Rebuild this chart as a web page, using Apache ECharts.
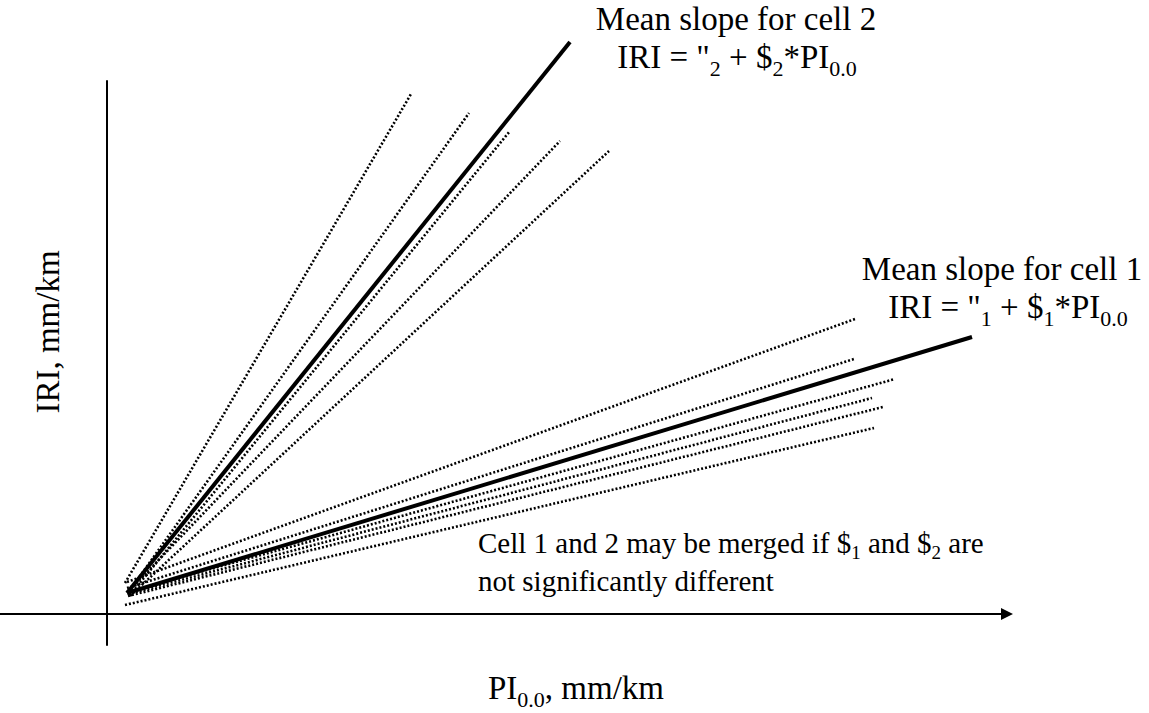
<!DOCTYPE html>
<html><head><meta charset="utf-8">
<script src="https://cdn.jsdelivr.net/npm/echarts@6/dist/echarts.min.js"></script>
<style>html,body{margin:0;padding:0;background:#fff}#c{width:1149px;height:713px}</style>
</head><body><div id="c"></div>
<script>
// Schematic chart: values in arbitrary units (no tick labels in the original)
const xRange = [-107, 900];
const yRange = [-31, 533];

const cell2MeanLine = [[20, 21], [463, 572]];
const cell1MeanLine = [[20, 21], [865, 277]];

const cell2SectionLines = [
  [[18, 31], [304, 520]],
  [[21, 21], [362, 501]],
  [[23, 19], [403, 483]],
  [[21, 22], [453, 473]],
  [[23, 18], [502, 463]]
];
const cell1SectionLines = [
  [[20, 32], [748, 295]],
  [[20, 26], [747, 255]],
  [[21, 22], [788, 235]],
  [[21, 20], [765, 216]],
  [[21, 18], [776, 207]],
  [[18, 9], [767, 186]]
];

const xTitle = '{n|PI}{s|0.0}{n|, mm/km}';
const yTitle = 'IRI, mm/km';
const cell2Title = 'Mean slope for cell 2';
const cell2Eq = '{n|IRI = "}{s|2}{n| + $}{s|2}{n|*PI}{s|0.0}';
const cell1Title = 'Mean slope for cell 1';
const cell1Eq = '{n|IRI = "}{s|1}{n| + $}{s|1}{n|*PI}{s|0.0}';
const noteLine1 = '{n|Cell 1 and 2 may be merged if $}{s|1}{n| and $}{s|2}{n| are}';
const noteLine2 = 'not significantly different';

const FONT = 'Liberation Serif, Times New Roman, serif';

function richText(size) {
  const sub = Math.round(size * 0.66);
  return {
    n: { fontSize: size, fontFamily: FONT, lineHeight: size, verticalAlign: 'top', fill: '#000' },
    s: { fontSize: sub, fontFamily: FONT, lineHeight: sub, padding: [Math.round(size * 0.5), 0, 0, 0], verticalAlign: 'top', fill: '#000' }
  };
}

const series = [];
cell2SectionLines.concat(cell1SectionLines).forEach(function (seg) {
  series.push({
    type: 'line', data: seg, showSymbol: false, clip: false, silent: true,
    lineStyle: { color: '#000', width: 2.6, type: [2, 2] }
  });
});
[cell2MeanLine, cell1MeanLine].forEach(function (seg) {
  series.push({
    type: 'line', data: seg, showSymbol: false, clip: false, silent: true,
    lineStyle: { color: '#000', width: 4 }
  });
});

const chart = echarts.init(document.getElementById('c'), null, { renderer: 'svg' });
chart.setOption({
  animation: false,
  backgroundColor: '#fff',
  grid: { left: 0, right: 1149 - 1007, top: 81, bottom: 713 - 645, containLabel: false },
  xAxis: {
    type: 'value', min: xRange[0], max: xRange[1],
    axisLine: { show: true, onZero: true, symbol: ['none', 'triangle'], symbolSize: [12, 12], lineStyle: { color: '#000', width: 2 } },
    axisTick: { show: false }, axisLabel: { show: false }, splitLine: { show: false }
  },
  yAxis: {
    type: 'value', min: yRange[0], max: yRange[1],
    axisLine: { show: true, onZero: true, lineStyle: { color: '#000', width: 2 } },
    axisTick: { show: false }, axisLabel: { show: false }, splitLine: { show: false }
  },
  series: series,
  graphic: [
    { type: 'text', x: 736, y: 19, style: { text: cell2Title, fontSize: 33, fontFamily: FONT, fill: '#000', align: 'center', verticalAlign: 'middle' } },
    { type: 'text', x: 737, y: 40, style: { text: cell2Eq, align: 'center', verticalAlign: 'top', rich: richText(33) } },
    { type: 'text', x: 1002, y: 269, style: { text: cell1Title, fontSize: 33, fontFamily: FONT, fill: '#000', align: 'center', verticalAlign: 'middle' } },
    { type: 'text', x: 1008, y: 290, style: { text: cell1Eq, align: 'center', verticalAlign: 'top', rich: richText(33) } },
    { type: 'text', x: 478, y: 528, style: { text: noteLine1, align: 'left', verticalAlign: 'top', rich: richText(29) } },
    { type: 'text', x: 478, y: 581, style: { text: noteLine2, fontSize: 29, fontFamily: FONT, fill: '#000', align: 'left', verticalAlign: 'middle' } },
    { type: 'text', x: 576, y: 671, style: { text: xTitle, align: 'center', verticalAlign: 'top', rich: richText(33) } },
    { type: 'text', x: 48, y: 332, rotation: Math.PI / 2, style: { text: yTitle, fontSize: 33, fontFamily: FONT, fill: '#000', align: 'center', verticalAlign: 'middle' } }
  ]
});
</script>
</body></html>
